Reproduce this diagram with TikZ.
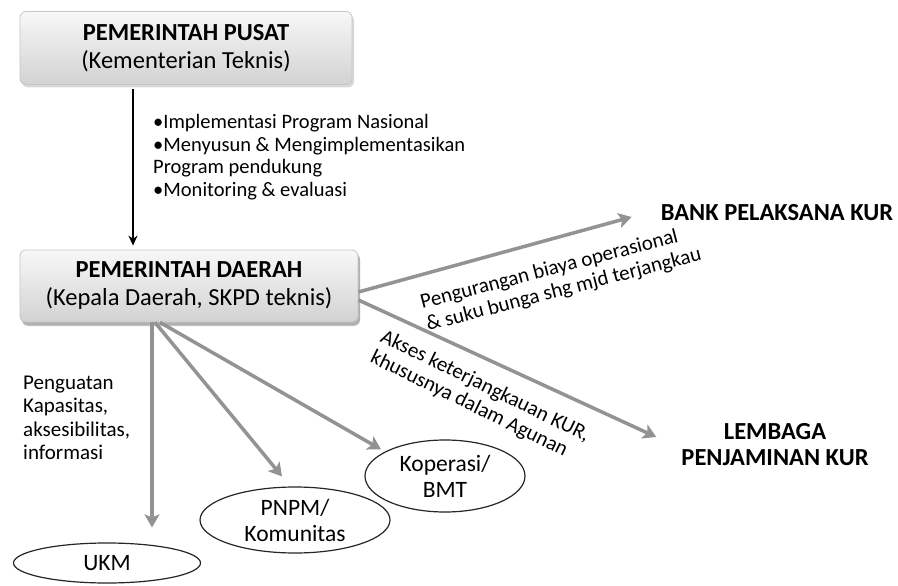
\documentclass[tikz,border=0pt]{standalone}
\usepackage{fontspec}
\setmainfont{Carlito}
\usetikzlibrary{arrows.meta,shadows,shapes.geometric}
\begin{document}
\begin{tikzpicture}[x=1pt,y=-1pt,
  govbox/.style={draw=gray!45, line width=0.8pt, rounded corners=6pt,
    top color=gray!6, bottom color=gray!35, align=center,
    font=\fontsize{24.5}{28}\selectfont, inner sep=0pt,
    drop shadow={opacity=0.3, shadow xshift=2pt, shadow yshift=-3pt}},
  oval/.style={ellipse, draw=black!85, line width=1.2pt, align=center,
    font=\fontsize{23.5}{26}\selectfont, inner sep=0pt},
  bodytext/.style={font=\fontsize{20.5}{22.5}\selectfont, align=left, inner sep=0pt},
  labeltext/.style={font=\fontsize{21}{23}\selectfont, align=left, inner sep=0pt},
  headtext/.style={font=\fontsize{24.5}{26}\selectfont\bfseries, align=center, inner sep=0pt},
  grayarrow/.style={draw=gray!85, line width=3.5pt,
    -{Stealth[length=13pt,width=15pt,inset=3pt]}},
  blackarrow/.style={draw=black, line width=1.8pt,
    -{Stealth[length=10pt,width=9pt]}}
]
\useasboundingbox (0,0) rectangle (898,586);
\fill[white] (0,0) rectangle (898,586);

% boxes
\node[govbox, minimum width=332pt, minimum height=73pt] (pusat) at (186,48)
  {\textbf{PEMERINTAH PUSAT}\\(Kementerian Teknis)};
\node[govbox, minimum width=338pt, minimum height=72pt,
  drop shadow={opacity=0.45, shadow xshift=2pt, shadow yshift=-4pt}] (daerah) at (189,286)
  {\textbf{PEMERINTAH DAERAH}\\(Kepala Daerah, SKPD teknis)};

% list text
\node[bodytext, anchor=west] (list) at (153,157)
  {\textbullet Implementasi Program Nasional\\
   \textbullet Menyusun \& Mengimplementasikan\\
   Program pendukung\\
   \textbullet Monitoring \& evaluasi};

% right targets
\node[headtext] (bank) at (777,213) {BANK PELAKSANA KUR};
\node[headtext] (lembaga) at (775,445) {LEMBAGA\\PENJAMINAN KUR};

% ovals
\node[oval, minimum width=160pt, minimum height=72pt] (kop) at (445,476) {Koperasi/\\BMT};
\node[oval, minimum width=190pt, minimum height=66pt] (pnpm) at (295,520) {PNPM/\\Komunitas};
\node[oval, minimum width=187pt, minimum height=40pt] (ukm) at (107,563) {UKM};

% labels
\node[labeltext, font=\fontsize{21}{23.5}\selectfont, anchor=west] (penguatan) at (23,418)
  {Penguatan\\Kapasitas,\\aksesibilitas,\\informasi};
\node[labeltext, rotate=14.5] (biaya) at (561,279)
  {Pengurangan biaya operasional\\\& suku bunga shg mjd terjangkau};
\node[labeltext, rotate=-26] (akses) at (480,397)
  {Akses keterjangkauan KUR,\\khususnya dalam Agunan};

% connectors
\draw[blackarrow] ([xshift=-53pt,yshift=-4pt]pusat.south) -- ([xshift=-56pt,yshift=4pt]daerah.north);
\draw[grayarrow] ([yshift=-6pt]daerah.east) -- ([xshift=-29pt,yshift=-4pt]bank.west);
\draw[grayarrow] ([yshift=-14pt]daerah.east) -- ([xshift=-25pt,yshift=8pt]lembaga.west);
\draw[grayarrow] ([xshift=-37pt]daerah.south) -- ([xshift=45pt,yshift=15pt]ukm.north);
\draw[grayarrow] ([xshift=-34pt]daerah.south) -- ([xshift=-13pt,yshift=10pt]pnpm.north);
\draw[grayarrow] ([xshift=-29pt]daerah.south) -- ([xshift=-64pt,yshift=-10pt]kop.north);
\end{tikzpicture}
\end{document}
